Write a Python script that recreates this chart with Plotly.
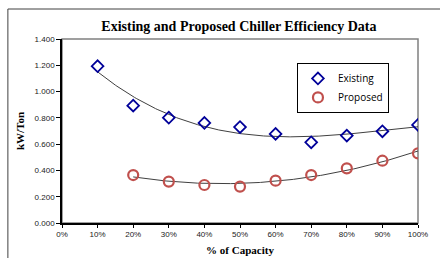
import numpy as np
import plotly.graph_objects as go

capacity_existing = [0.1, 0.2, 0.3, 0.4, 0.5, 0.6, 0.7, 0.8, 0.9, 1.0]
kw_existing = [1.193, 0.893, 0.801, 0.761, 0.730, 0.678, 0.614, 0.665, 0.698, 0.746]
capacity_proposed = [0.2, 0.3, 0.4, 0.5, 0.6, 0.7, 0.8, 0.9, 1.0]
kw_proposed = [0.365, 0.315, 0.289, 0.277, 0.322, 0.365, 0.416, 0.474, 0.530]

xs = np.linspace(0.1, 1.0, 200)
c_e = np.polyfit(capacity_existing, kw_existing, 3)
xs_p = np.linspace(0.2, 1.0, 200)
c_p = np.polyfit(capacity_proposed, kw_proposed, 2)

fig = go.Figure()
fig.add_trace(go.Scatter(x=xs, y=np.polyval(c_e, xs), mode="lines",
                         line=dict(color="#404040", width=1), showlegend=False, hoverinfo="skip"))
fig.add_trace(go.Scatter(x=xs_p, y=np.polyval(c_p, xs_p), mode="lines",
                         line=dict(color="#404040", width=1), showlegend=False, hoverinfo="skip"))
fig.add_trace(go.Scatter(x=capacity_existing, y=kw_existing, mode="markers", name="Existing",
                         marker=dict(symbol="diamond-open", size=9, color="#000099",
                                     line=dict(width=1.8, color="#000099"))))
fig.add_trace(go.Scatter(x=capacity_proposed, y=kw_proposed, mode="markers", name="Proposed",
                         marker=dict(symbol="circle-open", size=10, color="#C0504D",
                                     line=dict(width=2.2, color="#C0504D"))))

# plot area border (gray)
fig.add_shape(type="rect", xref="paper", yref="paper", x0=0, y0=0, x1=1, y1=1,
              line=dict(color="#808080", width=1.5), layer="below")
# outer chart frame
fig.add_shape(type="path", xref="paper", yref="paper",
              path="M -0.152,-0.25 L -0.152,1.163 L 1.2,1.163",
              line=dict(color="#404040", width=1))

fig.update_layout(
    width=440, height=258,
    margin=dict(l=62, r=22, t=39, b=35, autoexpand=False),
    paper_bgcolor="white", plot_bgcolor="white",
    title=dict(text="<b>Existing and Proposed Chiller Efficiency Data</b>",
               x=0.543, xanchor="center", y=0.9, yanchor="middle",
               font=dict(family="Liberation Serif", size=14, color="black")),
    xaxis=dict(range=[0, 1], dtick=0.1, tickformat=".0%", showgrid=False, zeroline=False,
               automargin=False,
               showline=True, linecolor="black", linewidth=1.5,
               ticks="outside", ticklen=3, tickcolor="black",
               tickfont=dict(family="Liberation Sans", size=8, color="#222"),
               title=dict(text="<b>% of Capacity</b>", standoff=8,
                          font=dict(family="Liberation Serif", size=11, color="black"))),
    yaxis=dict(range=[0, 1.4], dtick=0.2, tickformat=".3f", showgrid=False, zeroline=False,
               automargin=False,
               showline=True, linecolor="black", linewidth=1.5,
               ticks="outside", ticklen=4, tickcolor="black",
               tickfont=dict(family="Liberation Sans", size=8, color="#222"),
               title=dict(text="<b>kW/Ton</b>", standoff=8,
                          font=dict(family="Liberation Serif", size=11, color="black"))),
    legend=dict(x=0.66, y=0.87, xanchor="left", yanchor="top",
                bgcolor="white", bordercolor="black", borderwidth=1,
                font=dict(family="Open Sans", size=10, color="black"),
                itemwidth=30, tracegroupgap=0),
    showlegend=True,
)

fig.write_html("out.html", config={"displayModeBar": False},
               post_script="document.body.style.margin='0';")
